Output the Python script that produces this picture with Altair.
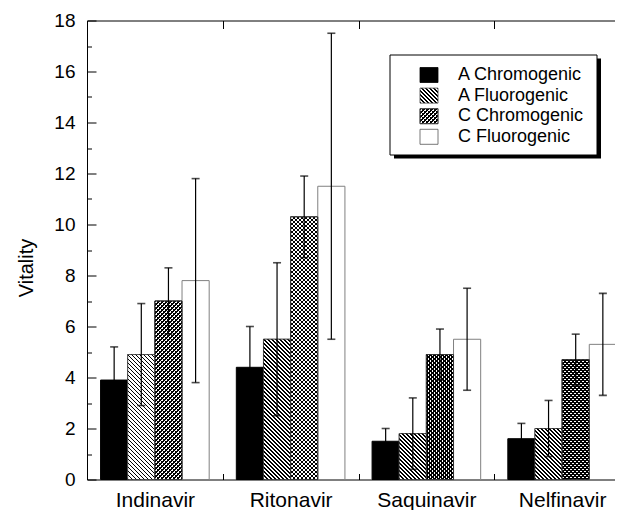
import math
import altair as alt
import pandas as pd

# ---------------- data ----------------
drugs = ["Indinavir", "Ritonavir", "Saquinavir", "Nelfinavir"]
series = ["A Chromogenic", "A Fluorogenic", "C Chromogenic", "C Fluorogenic"]
a_chromo = [3.9, 4.4, 1.5, 1.6]
a_fluoro = [4.9, 5.5, 1.8, 2.0]
c_chromo = [7.0, 10.3, 4.9, 4.7]
c_fluoro = [7.8, 11.5, 5.5, 5.3]
a_chromo_err = [1.3, 1.6, 0.5, 0.6]
a_fluoro_err = [2.0, 3.0, 1.4, 1.1]
c_chromo_err = [1.3, 1.6, 1.0, 1.0]
c_fluoro_err = [4.0, 6.0, 2.0, 2.0]
y_major = [0, 2, 4, 6, 8, 10, 12, 14, 16, 18]
y_minor = [1, 3, 5, 7, 9, 11, 13, 15, 17]

values = [a_chromo, a_fluoro, c_chromo, c_fluoro]
errors = [a_chromo_err, a_fluoro_err, c_chromo_err, c_fluoro_err]
rows = []
for si, s in enumerate(series):
    for di, d in enumerate(drugs):
        v, e = values[si][di], errors[si][di]
        rows.append({"drug": d, "series": s, "value": v, "lo": v - e, "hi": v + e})
df = pd.DataFrame(rows)
legend_df = pd.DataFrame({"series": series, "row": [0, 1, 2, 3]})

# ---------------- layout / style ----------------
FONT = "Liberation Sans"
PLOT_W, PLOT_H, Y_MAX = 543, 459, 18
P_INNER, P_OUTER = 0.2, 0.1
STEP = PLOT_W / (len(drugs) - P_INNER + 2 * P_OUTER)
BAR_W = STEP * (1 - P_INNER) / len(series)
PX_PER_UNIT = PLOT_H / Y_MAX
HATCH_PERIOD = 4 / math.sqrt(2)


def stripe_gradient(w, h, direction, period=HATCH_PERIOD, frac=0.4, ink="black", paper="white"):
    """Linear gradient with hard stops that draws 45-degree hatching in a w x h box."""
    a, b = 1.0 / h, 1.0 / w
    k = (a + b) / (a * a + b * b)
    if direction == "back":  # "\\" lines
        x1, y1, x2, y2 = 0.0, 1.0, k * a, 1.0 - k * b
    else:  # "/" lines
        x1, y1, x2, y2 = 0.0, 0.0, k * a, k * b
    n = (w + h) / math.sqrt(2) / period
    stops = []
    i = 0
    while i < n:
        t0 = round(i / n, 5)
        t1 = round(min((i + frac) / n, 1.0), 5)
        t2 = round(min((i + 1) / n, 1.0), 5)
        stops += [
            {"offset": t0, "color": ink},
            {"offset": t1, "color": ink},
            {"offset": t1, "color": paper},
            {"offset": t2, "color": paper},
        ]
        i += 1
    return {"gradient": "linear", "x1": x1, "y1": y1, "x2": x2, "y2": y2, "stops": stops}


xscale = alt.Scale(domain=drugs, paddingInner=P_INNER, paddingOuter=P_OUTER)
yscale = alt.Scale(domain=[0, Y_MAX], nice=False, zero=True)
xoff = alt.XOffset("series:N", scale=alt.Scale(domain=series, paddingInner=0, paddingOuter=0))

x_bottom = alt.Axis(
    orient="bottom", title=None, labelAngle=0, labelFont=FONT, labelFontSize=21,
    labelColor="black", labelBaseline="alphabetic", labelPadding=33,
    tickSize={"expr": "-6"}, tickOffset=STEP / 2, labelOffset=-STEP / 2,
    tickColor="black", tickWidth=1, domainColor="black", domainWidth=1, grid=False,
)
x_top = alt.Axis(
    orient="top", title=None, labels=False, tickSize={"expr": "-8"}, tickOffset=STEP / 2,
    tickColor="black", tickWidth=1, domainColor="black", domainWidth=1, grid=False,
)
y_left = alt.Axis(
    orient="left", values=y_major, title="Vitality", titleFont=FONT, titleFontSize=20,
    titleFontWeight="normal", titleColor="black", titleX=-55, titleY=247,
    titleAlign="center", titleBaseline="alphabetic",
    labelFont=FONT, labelFontSize=19, labelColor="black", labelPadding=21,
    tickSize={"expr": "-9"}, tickColor="black", tickWidth=1,
    domainColor="black", domainWidth=1, grid=False,
)
y_left_minor = alt.Axis(
    orient="left", values=y_minor, title=None, labels=False, domain=False,
    tickSize={"expr": "-4.5"}, tickColor="black", tickWidth=1, grid=False,
)
y_right = alt.Axis(
    orient="right", values=y_major, title=None, labels=False, domain=False,
    tickSize={"expr": "-9"}, tickColor="black", tickWidth=1, grid=False,
)
y_right_minor = alt.Axis(
    orient="right", values=y_minor, title=None, labels=False, domain=False,
    tickSize={"expr": "-4.5"}, tickColor="black", tickWidth=1, grid=False,
)

base = alt.Chart(df)
layers = []

# solid bars (black / white) with outlines
layers.append(
    base.mark_bar(strokeWidth=1).encode(
        x=alt.X("drug:N", scale=xscale, axis=x_bottom),
        xOffset=xoff,
        y=alt.Y("value:Q", scale=yscale, axis=y_left),
        fill=alt.Fill("series:N", scale=alt.Scale(domain=series, range=["black", "white", "white", "white"]), legend=None),
        stroke=alt.Stroke("series:N", scale=alt.Scale(domain=series, range=["black", "#333333", "#333333", "#808080"]), legend=None),
    )
)

# hatched overlays (one per bar so the hatching stays at 45 degrees)
for si, kinds in [(1, ["back"]), (2, ["back", "fwd"])]:
    for di, d in enumerate(drugs):
        h = values[si][di] * PX_PER_UNIT
        for kind in kinds:
            paper = "white" if kind == "back" else "rgba(255,255,255,0)"
            frac = 0.4 if si == 1 else 0.36
            grad = stripe_gradient(BAR_W, h, kind, frac=frac, paper=paper)
            layers.append(
                base.transform_filter((alt.datum.drug == d) & (alt.datum.series == series[si]))
                .mark_bar(fill=grad, stroke="#333333", strokeWidth=0.7)
                .encode(
                    x=alt.X("drug:N", scale=xscale, axis=None),
                    xOffset=xoff,
                    y=alt.Y("value:Q", scale=yscale, axis=None),
                )
            )

# error bars
layers.append(
    base.mark_rule(color="black", strokeWidth=1.2).encode(
        x=alt.X("drug:N", scale=xscale, axis=x_top),
        xOffset=xoff,
        y=alt.Y("lo:Q", scale=yscale, axis=y_left_minor),
        y2="hi:Q",
    )
)
layers.append(
    base.mark_tick(color="black", thickness=1.6, size=8).encode(
        x=alt.X("drug:N", scale=xscale, axis=None),
        xOffset=xoff,
        y=alt.Y("hi:Q", scale=yscale, axis=y_right),
    )
)
layers.append(
    base.mark_tick(color="black", thickness=1.6, size=8).encode(
        x=alt.X("drug:N", scale=xscale, axis=None),
        xOffset=xoff,
        y=alt.Y("lo:Q", scale=yscale, axis=y_right_minor),
    )
)

# legend box with drop shadow
leg = alt.Chart(legend_df)
layers.append(
    leg.transform_filter(alt.datum.row == 0).mark_rect(fill="black").encode(
        x=alt.value(307), x2=alt.value(514), y=alt.value(38), y2=alt.value(138)
    )
)
layers.append(
    leg.transform_filter(alt.datum.row == 0).mark_rect(fill="white", stroke="black", strokeWidth=1).encode(
        x=alt.value(303), x2=alt.value(510), y=alt.value(34.5), y2=alt.value(134.5)
    )
)
SYM_W, SYM_H, ROW0, ROW_STEP = 18, 15, 54.5, 20.6
sym_fills = [
    ["black"],
    [stripe_gradient(SYM_W, SYM_H, "back", frac=0.4)],
    [stripe_gradient(SYM_W, SYM_H, "back", frac=0.36),
     stripe_gradient(SYM_W, SYM_H, "fwd", frac=0.36, paper="rgba(255,255,255,0)")],
    ["white"],
]
sym_strokes = ["black", "#444444", "#444444", "#555555"]
for i, fills in enumerate(sym_fills):
    cy = ROW0 + ROW_STEP * i
    for f in fills:
        layers.append(
            leg.transform_filter(alt.datum.row == i).mark_rect(fill=f, stroke=sym_strokes[i], strokeWidth=0.8).encode(
                x=alt.value(333), x2=alt.value(333 + SYM_W), y=alt.value(cy - SYM_H / 2), y2=alt.value(cy + SYM_H / 2)
            )
        )
    layers.append(
        leg.transform_filter(alt.datum.row == i).mark_text(
            align="left", baseline="middle", font=FONT, fontSize=18, color="black"
        ).encode(x=alt.value(371), y=alt.value(cy), text="series:N")
    )

chart = (
    alt.layer(*layers)
    .resolve_axis(x="independent", y="independent")
    .properties(
        width=PLOT_W,
        height=PLOT_H,
        autosize=alt.AutoSizeParams(type="none"),
        padding={"left": 79, "top": 12.5, "right": -15, "bottom": 30},
        background="white",
    )
    .configure_view(stroke=None)
)

chart.save("out.html", embed_options={"renderer": "svg", "actions": False})
